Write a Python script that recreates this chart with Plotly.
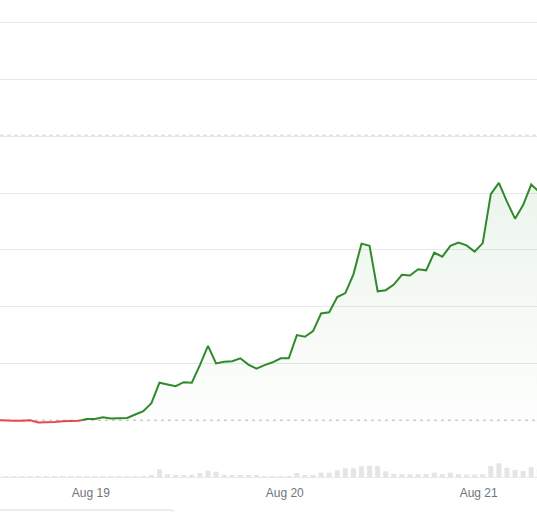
import pandas as pd
import plotly.graph_objects as go

# ---- data (hourly) ----
start_time = "2024-08-18 12:30"
prices = [
    10.00, 9.99, 9.99, 9.99, 10.00, 9.96, 9.96, 9.97, 9.98, 9.98, 9.99,
    10.02, 10.02, 10.05, 10.03, 10.04, 10.04, 10.10, 10.16, 10.30, 10.66,
    10.63, 10.60, 10.67, 10.66, 10.97, 11.31, 11.00, 11.03, 11.04, 11.09,
    10.98, 10.91, 10.97, 11.02, 11.09, 11.09, 11.50, 11.47, 11.57, 11.88,
    11.90, 12.17, 12.24, 12.57, 13.11, 13.07, 12.27, 12.29, 12.39, 12.56,
    12.55, 12.66, 12.64, 12.95, 12.88, 13.07, 13.13, 13.08, 12.97, 13.12,
    13.98, 14.18, 13.85, 13.55, 13.79, 14.15, 14.02,
]
volumes = [
    3, 3, 3, 3, 3, 3, 3, 3, 3, 3, 3,
    3, 3, 3, 3, 3, 3, 3, 10, 17, 77,
    27, 20, 17, 23, 40, 63, 53, 23, 17, 13,
    13, 17, 10, 8, 10, 10, 40, 20, 17, 43,
    43, 67, 87, 87, 107, 113, 110, 57, 33, 30,
    27, 27, 30, 43, 30, 43, 30, 23, 23, 27,
    110, 137, 93, 70, 60, 100, 80,
]
previous_close = 10.00
upper_ref = 15.02
grid_values = [11, 12, 13, 14, 15, 16, 17]
tick_dates = ["2024-08-19", "2024-08-20", "2024-08-21"]
tick_labels = ["Aug 19", "Aug 20", "Aug 21"]
x_start = "2024-08-18 12:45:43"
x_end = "2024-08-21 07:13:05"

times = pd.date_range(start_time, periods=len(prices), freq="h")

# split where the price moves clearly above the previous close
cross = next(i for i in range(1, len(prices))
             if prices[i - 1] < previous_close < prices[i])
frac = (previous_close - prices[cross - 1]) / (prices[cross] - prices[cross - 1])
t_cross = times[cross - 1] + (times[cross] - times[cross - 1]) * frac

red_x = list(times[:cross]) + [t_cross]
red_y = prices[:cross] + [previous_close]
green_x = [t_cross] + list(times[cross:])
green_y = [previous_close] + prices[cross:]

GREEN = "#2f8a2c"
RED = "#e5484d"

fig = go.Figure()

fig.add_trace(go.Bar(
    x=times, y=volumes, yaxis="y2",
    marker=dict(color="#e5e5e5", line=dict(width=0)),
    hoverinfo="skip", showlegend=False,
))

fig.add_trace(go.Scatter(
    x=green_x, y=green_y, mode="lines",
    line=dict(color=GREEN, width=2),
    fill="tozeroy",
    fillgradient=dict(
        type="vertical",
        start=9.5, stop=max(prices),
        colorscale=[[0, "rgba(47,138,44,0)"], [1, "rgba(47,138,44,0.09)"]],
    ),
    showlegend=False,
))
fig.add_trace(go.Scatter(
    x=red_x, y=red_y, mode="lines",
    line=dict(color=RED, width=2),
    showlegend=False,
))

fig.add_shape(type="line", xref="paper", x0=0, x1=1, yref="y",
              y0=previous_close, y1=previous_close,
              line=dict(color="#b5b5b5", width=1, dash="3px,4px"), layer="below")
fig.add_shape(type="line", xref="paper", x0=0, x1=1, yref="y",
              y0=upper_ref, y1=upper_ref,
              line=dict(color="#d6d6d6", width=1, dash="4px,3px"), layer="below")

# partial rounded box at bottom edge
H_PLOT = 477.0
fig.add_shape(
    type="path", xref="paper", yref="paper",
    path=(f"M -0.02,{-33/H_PLOT} L {170/537},{-33/H_PLOT} "
          f"Q {175/537},{-33/H_PLOT} {175/537},{-39/H_PLOT} L {175/537},-0.3"),
    line=dict(color="#d9d9d9", width=1),
)

fig.update_layout(
    width=537, height=512,
    margin=dict(l=0, r=0, t=0, b=35),
    paper_bgcolor="white", plot_bgcolor="white",
    bargap=0.38,
    font=dict(family="Liberation Sans, Arial, sans-serif", size=12, color="#70757a"),
    xaxis=dict(
        type="date", range=[x_start, x_end],
        showgrid=False, zeroline=False, ticks="",
        showline=True, linecolor="#e9e9e9", linewidth=1,
        tickvals=tick_dates, ticktext=tick_labels,
        tickfont=dict(size=12, color="#70757a"),
        ticklabelstandoff=5,
    ),
    yaxis=dict(
        range=[9, 10 + 420 / 56.75],
        tickvals=grid_values, showticklabels=False,
        showgrid=True, gridcolor="#e9e9e9", gridwidth=1,
        zeroline=False, showline=False, ticks="",
    ),
    yaxis2=dict(
        overlaying="y", range=[0, 4770], visible=False,
    ),
)

fig.write_html(
    "out.html",
    config={"displayModeBar": False},
    post_script="document.body.style.margin='0';document.body.style.padding='0';",
)
